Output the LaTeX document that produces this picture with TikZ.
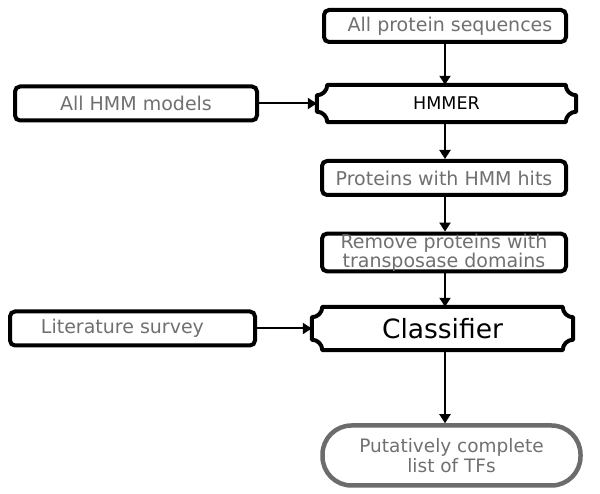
\documentclass[tikz,border=0pt]{standalone}
\usepackage{fontspec}
\setmainfont{DejaVu Sans}
\usetikzlibrary{arrows.meta,calc}
\definecolor{txtgray}{RGB}{112,112,112}
\definecolor{edgegray}{RGB}{108,108,108}
\newcommand\plaqueoutline[2]{%
  \draw[line width=4pt,line join=round]
    ($(#1.north west)+(#2,0)$) -- ($(#1.north east)+(-#2,0)$)
    arc[start angle=180,end angle=270,radius=#2]
    -- ($(#1.south east)+(0,#2)$)
    arc[start angle=90,end angle=180,radius=#2]
    -- ($(#1.south west)+(#2,0)$)
    arc[start angle=0,end angle=90,radius=#2]
    -- ($(#1.north west)+(0,-#2)$)
    arc[start angle=270,end angle=360,radius=#2] -- cycle;}
\begin{document}
\begin{tikzpicture}[x=1pt,y=1pt,
  box/.style={draw=black,line width=4pt,rounded corners=5pt,fill=white,
    text=txtgray,inner sep=0pt,font=\fontsize{19}{19}\selectfont},
  plq/.style={inner sep=0pt,text=black},
  arr/.style={line width=2pt,-{Triangle[length=9pt,width=11pt]}},
]
\useasboundingbox (0,0) rectangle (600,494);
\node[box,minimum width=242pt,minimum height=32pt] (seq) at (445,468) {\kern10pt All protein sequences};
\node[plq,minimum width=259pt,minimum height=37pt,font=\fontsize{17.5}{17.5}\selectfont] (hmmer) at (446.5,390.5) {HMMER};
\plaqueoutline{hmmer}{10.5}
\node[box,minimum width=242pt,minimum height=34pt] (models) at (136,390.5) {All HMM models};
\node[box,minimum width=244pt,minimum height=34pt] (hits) at (444,316) {Proteins with HMM hits};
\node[box,minimum width=244pt,minimum height=35pt,align=center,font=\fontsize{19}{15}\selectfont] (remove) at (444,241.5) {Remove proteins with\\transposase domains};
\node[plq,minimum width=261pt,minimum height=43pt,font=\fontsize{26.5}{26.5}\selectfont] (cls) at (442.5,165.5) {Classifier};
\plaqueoutline{cls}{10.5}
\node[box,minimum width=245pt,minimum height=34pt] (lit) at (132.5,165.5) {\kern-20pt Literature survey};
\node[box,draw=edgegray,line width=4.5pt,rounded corners=29pt,minimum width=258pt,minimum height=60pt,align=center,font=\fontsize{18.5}{20.5}\selectfont] (fin) at (451.5,38.5) {Putatively complete\\list of TFs};
\draw[arr] (seq.south) -- (seq.south |- hmmer.north);
\draw[arr] (models.east) -- (models.east -| hmmer.west);
\draw[arr] (hmmer.south -| seq.south) -- (seq.south |- hits.north);
\draw[arr] (hits.south -| seq.south) -- (seq.south |- remove.north);
\draw[arr] (remove.south -| seq.south) -- (seq.south |- cls.north);
\draw[arr] (lit.east) -- (lit.east -| cls.west);
\draw[arr] (cls.south -| seq.south) -- (seq.south |- fin.north);
\end{tikzpicture}
\end{document}
